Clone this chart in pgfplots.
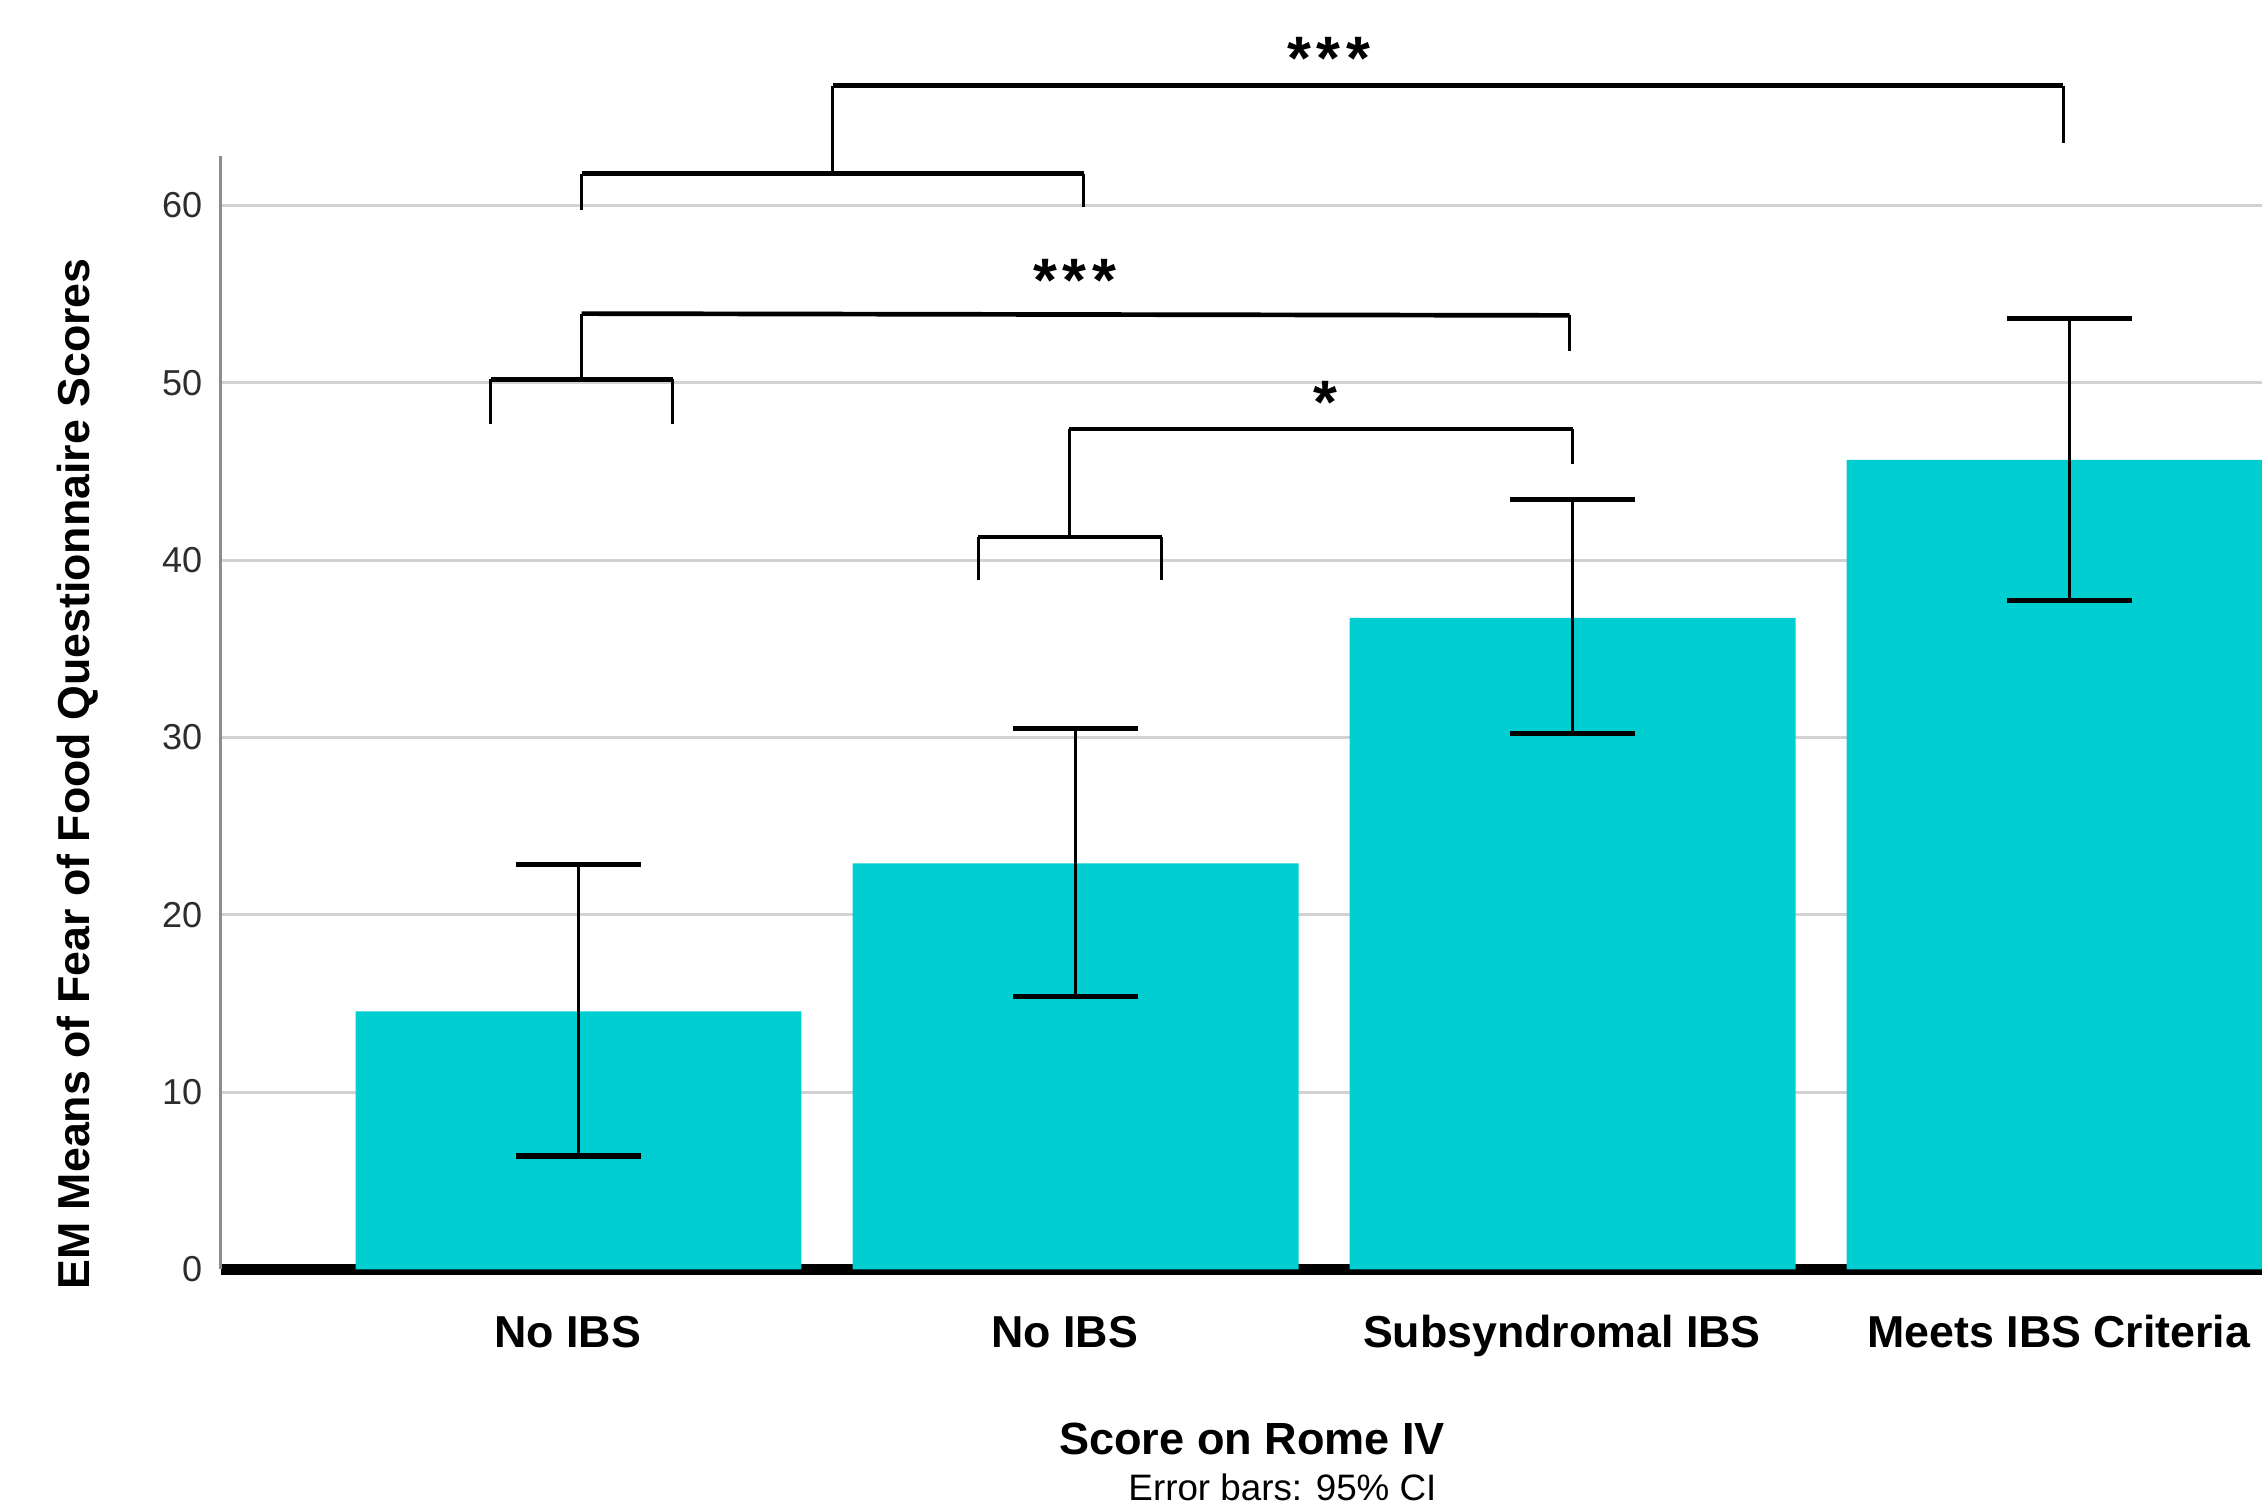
\documentclass[border=0pt]{standalone}
\usepackage{fontspec}
\setmainfont{Liberation Sans}
\usepackage{pgfplots}
\usepackage{pgfplotstable}
\pgfplotsset{compat=1.18}
\definecolor{barcol}{RGB}{0,206,209}
\definecolor{gridcol}{RGB}{210,210,210}
\definecolor{yaxcol}{RGB}{140,140,140}
\definecolor{tickcol}{RGB}{45,45,45}

\pgfplotstableread{
x y ep em
0 14.55 8.30 8.15
1 22.90 7.60 7.50
2 36.75 6.65 6.55
3 45.65 8.00 7.95
}\datatable

\newcommand{\threestars}{*\hspace{1.6pt}*\hspace{1.6pt}*}

\begin{document}
\begin{tikzpicture}
\useasboundingbox (-61.2pt,-65.2pt) rectangle (566pt,352pt);
\clip (-61.2pt,-65.2pt) rectangle (566pt,352pt);
\begin{axis}[
  at={(0pt,0pt)}, anchor=south west,
  scale only axis, width=566pt, height=308.8pt,
  xmin=-0.72, xmax=3.387, ymin=0, ymax=62.8,
  clip=false,
  axis x line*=bottom, axis y line*=left,
  x axis line style={black, line width=3pt, -},
  y axis line style={yaxcol, line width=0.9pt, -},
  ymajorgrids, grid style={gridcol, line width=0.8pt},
  ytick={0,10,20,30,40,50,60},
  xtick={0,1,2,3},
  xticklabels={No IBS, No IBS, Subsyndromal IBS, Meets IBS Criteria},
  major tick length=0pt,
  xticklabel style={font=\fontsize{12.4}{14}\selectfont\bfseries, anchor=base, yshift=-21.6pt, xshift=-3pt},
  yticklabel style={font=\fontsize{10}{12}\selectfont, text=tickcol, xshift=-1.6pt},
  /pgf/number format/assume math mode=true,
]
\addplot[ybar, bar width=0.897, fill=barcol, draw=none,
  error bars/.cd, y dir=both, y explicit,
  error bar style={black, line width=0.9pt},
  error mark options={rotate=90, black, line width=1.4pt, mark size=17.4pt}]
  table[x=x, y=y, y error plus=ep, y error minus=em] {\datatable};

% significance brackets
\draw[line width=1.3pt] (axis cs:0.511,66.75) -- (axis cs:2.987,66.75);
\draw[line width=0.9pt] (axis cs:0.511,66.75) -- (axis cs:0.511,61.8);
\draw[line width=0.9pt] (axis cs:2.987,66.75) -- (axis cs:2.987,63.5);

\draw[line width=1.3pt] (axis cs:0.006,61.8) -- (axis cs:1.016,61.8);
\draw[line width=0.9pt] (axis cs:0.006,61.8) -- (axis cs:0.006,59.75);
\draw[line width=0.9pt] (axis cs:1.016,61.8) -- (axis cs:1.016,59.9);

\draw[line width=1.3pt] (axis cs:0.006,53.9) -- (axis cs:1.994,53.8);
\draw[line width=0.9pt] (axis cs:0.006,53.9) -- (axis cs:0.006,50.2);
\draw[line width=0.9pt] (axis cs:1.994,53.8) -- (axis cs:1.994,51.8);

\draw[line width=1.3pt] (axis cs:-0.177,50.2) -- (axis cs:0.189,50.2);
\draw[line width=0.9pt] (axis cs:-0.177,50.2) -- (axis cs:-0.177,47.7);
\draw[line width=0.9pt] (axis cs:0.189,50.2) -- (axis cs:0.189,47.7);

\draw[line width=1.3pt] (axis cs:0.987,47.4) -- (axis cs:2.0,47.4);
\draw[line width=0.9pt] (axis cs:2.0,47.4) -- (axis cs:2.0,45.4);
\draw[line width=0.9pt] (axis cs:0.987,47.4) -- (axis cs:0.987,41.3);

\draw[line width=1.3pt] (axis cs:0.804,41.3) -- (axis cs:1.173,41.3);
\draw[line width=0.9pt] (axis cs:0.804,41.3) -- (axis cs:0.804,38.9);
\draw[line width=0.9pt] (axis cs:1.173,41.3) -- (axis cs:1.173,38.9);

\node[anchor=base, font=\fontsize{17}{18}\selectfont\bfseries, inner sep=0pt] at (axis cs:1.509,67.1) {\threestars};
\node[anchor=base, font=\fontsize{17}{18}\selectfont\bfseries, inner sep=0pt] at (axis cs:0.9985,54.56) {\threestars};
\node[anchor=base, font=\fontsize{17}{18}\selectfont\bfseries, inner sep=0pt] at (axis cs:1.502,47.7) {*};
\end{axis}

\node[anchor=base, font=\fontsize{12.5}{14}\selectfont\bfseries, inner sep=0pt] at (286pt,-51.2pt) {Score on Rome IV};
\node[anchor=base, font=\fontsize{10.2}{12}\selectfont, inner sep=0pt] at (294.4pt,-64pt) {Error bars: 95\% CI};
\node[anchor=base, rotate=90, font=\fontsize{12.4}{14}\selectfont\bfseries, inner sep=0pt] at (-36.4pt,137.4pt) {EM Means of Fear of Food Questionnaire Scores};
\end{tikzpicture}
\end{document}
